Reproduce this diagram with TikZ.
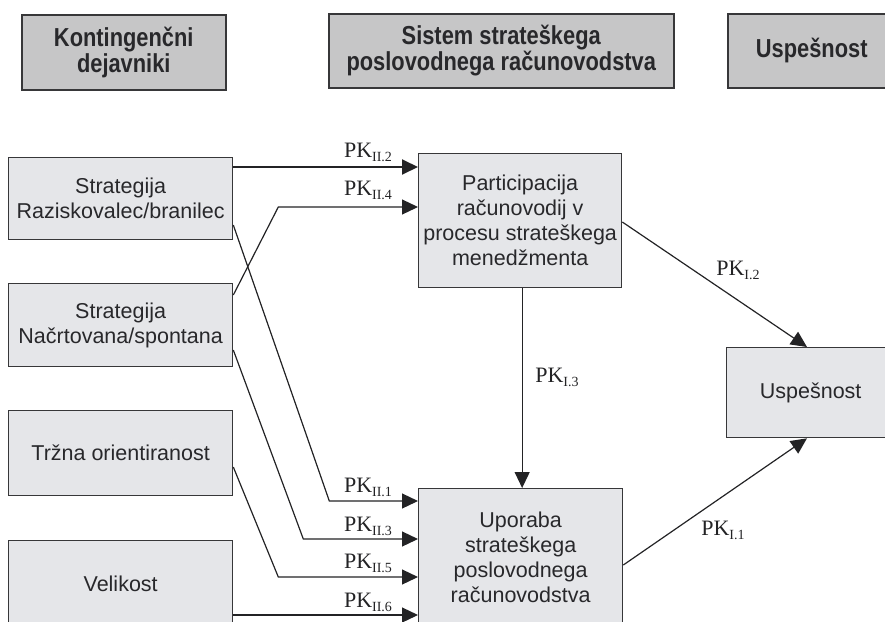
\documentclass[tikz,border=0pt]{standalone}
\usepackage{fontspec}
\setmainfont{Liberation Sans}
\newfontfamily\hdrfont{Liberation Sans}[FakeStretch=0.84]
\newfontfamily\pkfont{Liberation Serif}
\usetikzlibrary{arrows.meta,calc}

\definecolor{hdrfill}{RGB}{198,198,199}
\definecolor{boxfill}{RGB}{229,230,233}
\definecolor{edge}{RGB}{55,55,57}
\definecolor{ink}{RGB}{35,35,37}
\definecolor{txt}{RGB}{40,40,43}

% path label "PK" with a lowered index
\newcommand\pk[1]{{\pkfont\fontsize{22}{22}\selectfont PK\raisebox{-4pt}{\fontsize{14}{14}\selectfont #1}}}

\tikzset{
  hdrbox/.style={draw=edge, line width=1.5pt, fill=hdrfill, text=txt,
    align=center, inner sep=0pt, anchor=north west,
    font=\hdrfont\bfseries\fontsize{26}{26}\selectfont},
  varbox/.style={draw=edge, line width=1.3pt, fill=boxfill, text=txt,
    align=center, inner sep=0pt, anchor=north west,
    font=\fontsize{21.5}{25}\selectfont},
  conn/.style={draw=ink, line width=1.2pt,
    -{Triangle[length=16pt,width=15pt]}},
  heavy/.style={line width=1.9pt},
  pklabel/.style={inner sep=0pt, text=ink}
}

\begin{document}
\begin{tikzpicture}[x=1pt,y=-1pt]
\useasboundingbox (0,0) rectangle (885,621);

% column headings
\node[hdrbox, minimum width=204pt, minimum height=75pt] (h1) at (21,14)
  {Kontingenčni\\dejavniki};
\node[hdrbox, minimum width=345pt, minimum height=74pt] (h2) at (328,13)
  {Sistem strateškega\\poslovodnega računovodstva};
\node[hdrbox, minimum width=168pt, minimum height=74pt] (h3) at (727,13)
  {Uspešnost};

% contingency factors
\node[varbox, minimum width=224pt, minimum height=82pt] (A) at (8,157)
  {Strategija\\Raziskovalec/branilec};
\node[varbox, minimum width=224pt, minimum height=83pt] (B) at (8,283)
  {Strategija\\Načrtovana/spontana};
\node[varbox, minimum width=224pt, minimum height=85pt] (C) at (8,410)
  {Tržna orientiranost};
\node[varbox, minimum width=224pt, minimum height=86pt] (D) at (8,540)
  {Velikost};

% strategic management accounting system
\node[varbox, minimum width=203pt, minimum height=134pt] (P) at (418,153)
  {Participacija\\računovodij v\\procesu strateškega\\menedžmenta};
\node[varbox, minimum width=204pt, minimum height=138pt] (U) at (418,488)
  {Uporaba\\strateškega\\poslovodnega\\računovodstva};

% performance
\node[varbox, minimum width=168pt, minimum height=90pt] (S) at (726,347)
  {Uspešnost};

% paths into participation
\draw[conn, heavy] ([yshift=-10pt]A.north east) -- ([yshift=-14pt]P.north west);
\draw[conn] ([yshift=-12pt]B.north east) -- ++(45,-88) -- ([yshift=-54pt]P.north west);

% paths into use of strategic management accounting
\draw[conn] ([yshift=-68pt]A.north east) -- ++(96,276) -- ([yshift=-13pt]U.north west);
\draw[conn] ([yshift=-67pt]B.north east) -- ++(70,189) -- ([yshift=-51pt]U.north west);
\draw[conn] ([yshift=-57pt]C.north east) -- ++(45,110) -- ([yshift=-89pt]U.north west);
\draw[conn] ([yshift=-75pt]D.north east) -- ([yshift=-127pt]U.north west);

% paths between system parts and performance
\draw[conn] ([xshift=2pt]P.south) -- ([xshift=2pt]P.south |- U.north);
\draw[conn] ([yshift=-69pt]P.north east) -- ([xshift=81pt]S.north west);
\draw[conn] ([yshift=-77pt]U.north east) -- ([xshift=81pt]S.south west);

% path labels
\node[pklabel] (l22) at (368,152) {\pk{II.2}};
\node[pklabel] (l24) at (368,190) {\pk{II.4}};
\node[pklabel] (l21) at (368,487) {\pk{II.1}};
\node[pklabel] (l23) at (368,526) {\pk{II.3}};
\node[pklabel] (l25) at (368,563) {\pk{II.5}};
\node[pklabel] (l26) at (368,602) {\pk{II.6}};
\node[pklabel] (l13) at (557,377) {\pk{I.3}};
\node[pklabel] (l12) at (738,270) {\pk{I.2}};
\node[pklabel] (l11) at (723,530) {\pk{I.1}};
\end{tikzpicture}
\end{document}
